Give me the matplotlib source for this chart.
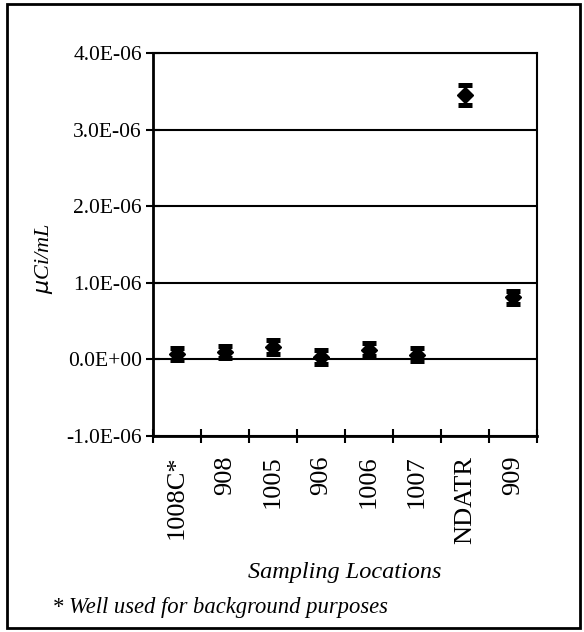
import matplotlib.pyplot as plt
import numpy as np
from matplotlib.patches import Rectangle

# data
locations = ["1008C*", "908", "1005", "906", "1006", "1007", "NDATR", "909"]
values = [0.07e-6, 0.10e-6, 0.16e-6, 0.03e-6, 0.13e-6, 0.065e-6, 3.45e-6, 0.81e-6]
errors = [0.08e-6, 0.08e-6, 0.09e-6, 0.09e-6, 0.09e-6, 0.09e-6, 0.13e-6, 0.09e-6]
yticks = [-1e-6, 0, 1e-6, 2e-6, 3e-6, 4e-6]
ytick_labels = ["-1.0E-06", "0.0E+00", "1.0E-06", "2.0E-06", "3.0E-06", "4.0E-06"]

plt.rcParams['font.family'] = ['Liberation Serif', 'DejaVu Serif']

fig = plt.figure(figsize=(5.84, 6.32), dpi=100)
ax = fig.add_axes([0.262, 0.310, 0.6575, 0.606])

x = np.arange(1, len(locations) + 1)
ax.errorbar(x, values, yerr=errors, fmt='D', color='black', markersize=8,
            ecolor='black', elinewidth=2, capsize=5, capthick=3.6, zorder=3)

ax.set_ylim(-1e-6, 4e-6)
ax.set_yticks(yticks)
ax.set_yticklabels(ytick_labels, fontsize=15.5)
ax.yaxis.grid(True, color='black', linewidth=1.5)
ax.set_axisbelow(True)

ax.set_xlim(0.5, len(locations) + 0.5)
ax.set_xticks(x)
ax.set_xticklabels(locations, rotation=90, fontsize=19)
ax.set_xticks(np.arange(0.5, len(locations) + 1, 1), minor=True)
ax.tick_params(axis='x', which='major', length=0, pad=14)
ax.tick_params(axis='x', which='minor', length=10, width=1.5, direction='inout')
ax.tick_params(axis='y', which='major', length=10, width=1.5, direction='inout', pad=3)

for side in ['left', 'bottom']:
    ax.spines[side].set_linewidth(2)
for side in ['top', 'right']:
    ax.spines[side].set_linewidth(1.5)

ax.set_ylabel(r"$\mu$Ci/mL", fontstyle='italic', fontsize=16)
ax.yaxis.set_label_coords(-0.255, 0.465)
ax.set_xlabel("Sampling Locations", fontstyle='italic', fontsize=17.5)
ax.xaxis.set_label_coords(0.5, -0.33)

fig.text(0.089, 0.038, "* Well used for background purposes", fontstyle='italic',
         fontsize=16.3, ha='left', va='center')

fig.patches.append(Rectangle((0.012, 0.006), 0.981, 0.988, transform=fig.transFigure,
                             fill=False, edgecolor='black', linewidth=2))

plt.savefig("out.png", dpi=100)
